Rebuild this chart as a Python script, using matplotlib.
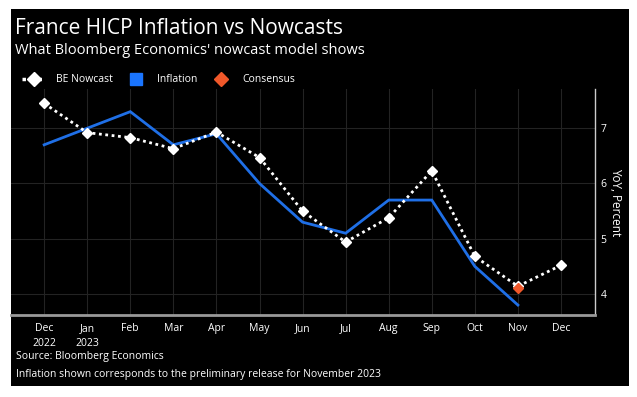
import matplotlib
matplotlib.use("Agg")
import matplotlib.pyplot as plt
from matplotlib.patches import Rectangle
from matplotlib.lines import Line2D
import numpy as np

months = ["Dec\n2022", "Jan\n2023", "Feb", "Mar", "Apr", "May", "Jun", "Jul", "Aug", "Sep", "Oct", "Nov", "Dec"]
inflation = [6.7, 7.0, 7.3, 6.7, 6.9, 6.0, 5.3, 5.1, 5.7, 5.7, 4.5, 3.8]
nowcast = [7.45, 6.92, 6.83, 6.63, 6.93, 6.47, 5.5, 4.94, 5.38, 6.23, 4.68, 4.14, 4.52]
consensus_month = 11
consensus = [4.1]
yticks = [4, 5, 6, 7]

plt.rcParams['font.family'] = ['Open Sans', 'DejaVu Sans']

W, H = 637, 397
fig = plt.figure(figsize=(W/100, H/100), dpi=100, facecolor='white')
fig.patches.append(Rectangle((11/W, 1 - 386/H), (629-11)/W, (386-9)/H,
                             transform=fig.transFigure, facecolor='black',
                             edgecolor='none', zorder=-10))

left, right, top, bottom = 11, 595, 89, 315
ax = fig.add_axes([left/W, 1 - bottom/H, (right-left)/W, (bottom-top)/H])
ax.set_zorder(1)
ax.set_facecolor('black')

x = np.arange(len(months))
ax.plot(x[:len(inflation)], inflation, color='#1f6fe6', lw=2, zorder=3, solid_joinstyle='miter')
ax.plot(x, nowcast, color='white', lw=2, ls=(0, (1, 1.3)), marker='D', ms=5,
        markerfacecolor='white', markeredgecolor='white', zorder=4)
ax.plot([consensus_month], consensus, marker='D', ms=5, color='#f0582a',
        ls='none', zorder=5)

ax.set_xlim(-0.77, 12.79)
ax.set_ylim(3.62, 7.71)
ax.set_xticks(x)
ax.set_xticklabels(months, color='white', fontsize=7.5, linespacing=1.45)
ax.set_yticks(yticks)
ax.set_yticklabels([str(v) for v in yticks], color='white', fontsize=7.5)
ax.yaxis.tick_right()
ax.tick_params(axis='x', length=0, pad=6)
ax.tick_params(axis='y', length=0, pad=4)
ax.grid(True, color='#232323', lw=0.8)
ax.set_axisbelow(True)
for s in ['top', 'left']:
    ax.spines[s].set_visible(False)
ax.spines['right'].set_color('#cccccc')
ax.spines['right'].set_linewidth(1)
ax.spines['bottom'].set_color('#999999')
ax.spines['bottom'].set_linewidth(2)

ax.yaxis.set_label_position('right')
ax.set_ylabel('YoY, Percent', color='white', fontsize=8.5, rotation=270, labelpad=11)

fig.text(15/W, 1 - 28/H, 'France HICP Inflation vs Nowcasts', color='white',
         fontsize=15, va='center', ha='left')
fig.text(15/W, 1 - 50/H, "What Bloomberg Economics' nowcast model shows", color='white',
         fontsize=10.5, va='center', ha='left')

handles = [
    Line2D([], [], color='white', lw=2.5, ls=(0, (1, 1.3)), marker='D', ms=7,
           markerfacecolor='white'),
    Line2D([], [], color='#1a75ff', marker='s', ms=8, ls='none'),
    Line2D([], [], color='#f0582a', marker='D', ms=7, ls='none'),
]
leg = fig.legend(handles, ['BE Nowcast', 'Inflation', 'Consensus'], loc='center left',
                 bbox_to_anchor=(13/W, 1 - 80/H), ncol=3, frameon=False, fontsize=7.5,
                 labelcolor='white', handlelength=2.2, columnspacing=1.1, handletextpad=1.0)

fig.text(16/W, 1 - 357/H, 'Source: Bloomberg Economics', color='white', fontsize=7.5,
         va='center', ha='left')
fig.text(16/W, 1 - 375/H, 'Inflation shown corresponds to the preliminary release for November 2023',
         color='white', fontsize=7.5, va='center', ha='left')

fig.savefig('out.png', dpi=100, facecolor='white')
